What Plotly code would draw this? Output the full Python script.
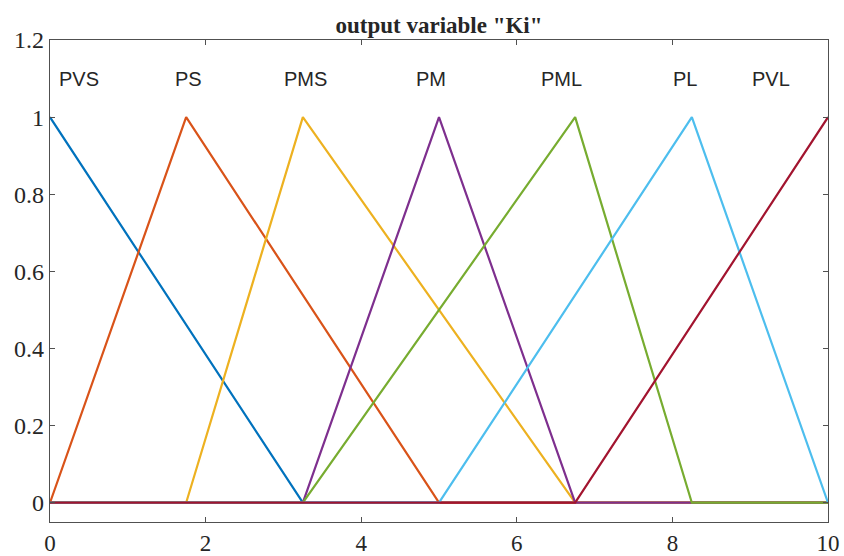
import plotly.graph_objects as go

# Membership functions of output variable "Ki" (triangular: a, b, c)
mf_names = ["PVS", "PS", "PMS", "PM", "PML", "PL", "PVL"]
mf_a = [-3.25, 0.0, 1.75, 3.25, 3.25, 5.0, 6.75]
mf_b = [0.0, 1.75, 3.25, 5.0, 6.75, 8.25, 10.0]
mf_c = [3.25, 5.0, 6.75, 6.75, 8.25, 10.0, 13.25]
label_x = [0.37, 1.78, 3.28, 4.90, 6.58, 8.16, 9.27]
label_y = 1.10
colors = ["#0072BD", "#D95319", "#EDB120", "#7E2F8E", "#77AC30", "#4DBEEE", "#A2142F"]
x_range = [0, 10]


def trimf(x, a, b, c):
    if x <= a or x >= c:
        if x == b:
            return 1.0
        return 0.0
    if x <= b:
        return (x - a) / (b - a) if b != a else 1.0
    return (c - x) / (c - b) if c != b else 1.0


fig = go.Figure()
for name, a, b, c, col in zip(mf_names, mf_a, mf_b, mf_c, colors):
    xs = sorted(set([x_range[0], x_range[1]] + [v for v in (a, b, c) if x_range[0] <= v <= x_range[1]]))
    ys = [trimf(v, a, b, c) for v in xs]
    fig.add_trace(go.Scatter(x=xs, y=ys, mode="lines", name=name,
                             line=dict(color=col, width=2.2), showlegend=False,
                             hoverinfo="skip"))

for name, lx in zip(mf_names, label_x):
    fig.add_annotation(x=lx, y=label_y, text=name, showarrow=False,
                       font=dict(family="Liberation Sans, Arial", size=20, color="#262626"),
                       xanchor="center", yanchor="middle")

axis_common = dict(showline=True, linecolor="#505050", linewidth=1.2, mirror="ticks",
                   ticks="inside", ticklen=5, tickcolor="#505050", showgrid=False,
                   zeroline=False, automargin=False)
tick_font = dict(family="Liberation Serif, Times New Roman", size=24, color="#262626")

fig.update_layout(
    width=844, height=556,
    margin=dict(l=50, r=16, t=40, b=34),
    paper_bgcolor="white", plot_bgcolor="white",
    title=dict(text='<b>output variable "Ki"</b>', x=0.5, xref="paper", y=1, yref="paper",
               yanchor="bottom", pad=dict(b=7),
               font=dict(family="Liberation Serif, Times New Roman", size=23, color="#262626")),
    xaxis=dict(range=x_range, tickvals=[0, 2, 4, 6, 8, 10],
               tickfont=dict(family=tick_font["family"], size=23, color=tick_font["color"]),
               **axis_common),
    yaxis=dict(range=[-0.05, 1.2], tickvals=[0, 0.2, 0.4, 0.6, 0.8, 1, 1.2],
               ticktext=["0", "0.2", "0.4", "0.6", "0.8", "1", "1.2"], tickfont=tick_font,
               **axis_common),
)

fig.write_html("out.html")
